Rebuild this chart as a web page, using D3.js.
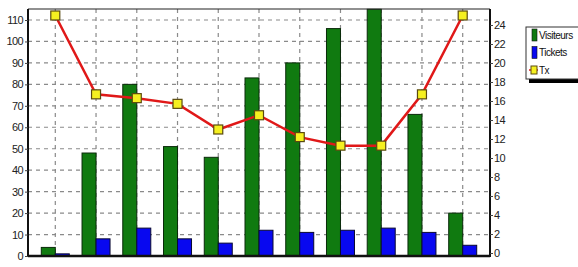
<!DOCTYPE html>
<html><head><meta charset="utf-8">
<script src="https://cdn.jsdelivr.net/npm/d3@7"></script>
<style>body{margin:0;background:#fff}svg{display:block;font-family:"Liberation Sans",Arial,sans-serif}</style>
</head><body><svg id="c" width="578" height="267"></svg>
<script>
const categories = ["1","2","3","4","5","6","7","8","9","10","11"];
const visiteurs = [4,48,80,51,46,83,90,106,115,66,20];
const tickets = [1,8,13,8,6,12,11,12,13,11,5];
const tx = [25,16.7,16.3,15.7,13.0,14.5,12.2,11.3,11.3,16.7,25];
const leftTicks = [0,10,20,30,40,50,60,70,80,90,100,110];
const rightTicks = [0,2,4,6,8,10,12,14,16,18,20,22,24];
const legendLabels = ["Visiteurs","Tickets","Tx"];

const svg = d3.select("#c");
const L = 28, R = 490, T = 9, B = 256;
const x = d3.scalePoint().domain(categories).range([L, R]).padding(0.67);
const yL = d3.scaleLinear().domain([0,110]).range([B, 20]);
const yR = d3.scaleLinear().domain([0,24]).range([253, 25]);
const bw = 14;

const g = svg.append("g");
// grid
g.selectAll(".hg").data(leftTicks.filter(d=>d>0)).join("line")
  .attr("x1", L).attr("x2", R).attr("y1", d=>yL(d)).attr("y2", d=>yL(d))
  .attr("stroke","#8a8a8a").attr("stroke-width",1.2).attr("stroke-dasharray","4,4");
g.selectAll(".vg").data(categories).join("line")
  .attr("x1", d=>x(d)).attr("x2", d=>x(d)).attr("y1", T).attr("y2", B)
  .attr("stroke","#8a8a8a").attr("stroke-width",1.2).attr("stroke-dasharray","4,4");

// bars
g.selectAll(".bv").data(visiteurs).join("rect")
  .attr("x",(d,i)=>x(categories[i])-bw).attr("width",bw)
  .attr("y",d=>Math.max(T,yL(d))).attr("height",d=>B-Math.max(T,yL(d)))
  .attr("fill","#107a10").attr("stroke","#0a2a0a").attr("stroke-width",1);
g.selectAll(".bt").data(tickets).join("rect")
  .attr("x",(d,i)=>x(categories[i])).attr("width",bw)
  .attr("y",d=>yL(d)).attr("height",d=>B-yL(d))
  .attr("fill","#0808f0").attr("stroke","#0a0a30").attr("stroke-width",1);

// frame
svg.append("line").attr("x1",L).attr("x2",R).attr("y1",T).attr("y2",T).attr("stroke","#222").attr("stroke-width",1.2);
svg.append("line").attr("x1",L).attr("x2",L).attr("y1",T).attr("y2",B+1).attr("stroke","#111").attr("stroke-width",2);
svg.append("line").attr("x1",R).attr("x2",R).attr("y1",T).attr("y2",B+1).attr("stroke","#111").attr("stroke-width",2);
svg.append("line").attr("x1",L).attr("x2",R).attr("y1",B).attr("y2",B).attr("stroke","#111").attr("stroke-width",2.5);

// axes
const axL = d3.axisLeft(yL).tickValues(leftTicks).tickSize(3).tickPadding(2);
const gl = svg.append("g").attr("transform",`translate(${L},0)`).call(axL);
gl.select(".domain").remove();
gl.selectAll("text").attr("font-size",11).attr("fill","#222").style("letter-spacing","-0.6px");
gl.selectAll("line").attr("stroke","#444");
const axR = d3.axisRight(yR).tickValues(rightTicks).tickSize(3).tickPadding(1);
const gr = svg.append("g").attr("transform",`translate(${R},0)`).call(axR);
gr.select(".domain").remove();
gr.selectAll("text").attr("font-size",11).attr("fill","#222").style("letter-spacing","-0.6px");
gr.selectAll("line").attr("stroke","#444");

// line
const line = d3.line().x((d,i)=>x(categories[i])).y(d=>yR(d));
svg.append("path").datum(tx).attr("d",line).attr("fill","none")
  .attr("stroke","#e01818").attr("stroke-width",2.5);
svg.selectAll(".mk").data(tx).join("rect")
  .attr("x",(d,i)=>x(categories[i])-4.5).attr("y",d=>yR(d)-4.5)
  .attr("width",9).attr("height",9).attr("fill","#f5f020").attr("stroke","#5a4a10").attr("stroke-width",1.2);

// legend
const lg = svg.append("g");
lg.append("rect").attr("x",529).attr("y",31).attr("width",60).attr("height",52).attr("fill","#000");
lg.append("rect").attr("x",526).attr("y",27).attr("width",60).attr("height",52).attr("fill","#fff").attr("stroke","#333").attr("stroke-width",1);
const cols = ["#107a10","#0808f0"];
legendLabels.forEach((lab,i)=>{
  const yy = 35 + i*17.5;
  if (i<2) {
    lg.append("rect").attr("x",532).attr("y",yy-6).attr("width",5).attr("height",12).attr("fill",cols[i]).attr("stroke","#111").attr("stroke-width",0.6);
  } else {
    lg.append("line").attr("x1",529).attr("x2",538).attr("y1",yy).attr("y2",yy).attr("stroke","#e01818").attr("stroke-width",1.5);
    lg.append("rect").attr("x",531).attr("y",yy-4).attr("width",6).attr("height",8).attr("fill","#f5f020").attr("stroke","#5a4a10").attr("stroke-width",1);
  }
  lg.append("text").attr("x",539).attr("y",yy+3.5).attr("font-size",10).attr("fill","#111")
    .style("letter-spacing","-0.5px").text(lab);
});
</script></body></html>
